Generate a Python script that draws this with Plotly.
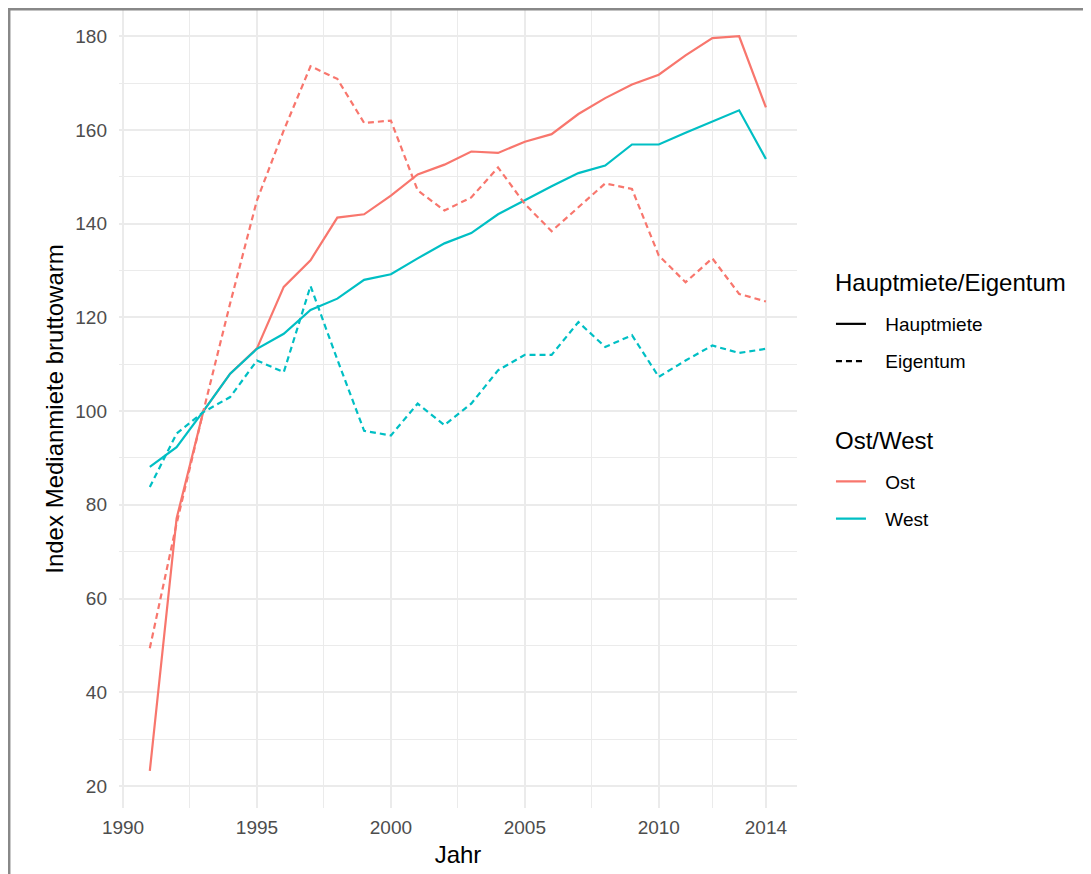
import plotly.graph_objects as go

years = list(range(1991, 2015))

ost_hauptmiete = [23.2, 77.1, 100.0, 108.0, 113.4, 126.5, 132.2, 141.3, 142.0, 146.0, 150.5, 152.6,
                  155.4, 155.1, 157.5, 159.1, 163.4, 166.8, 169.7, 171.8, 175.9, 179.6, 180.0, 164.8]
west_hauptmiete = [88.1, 92.3, 100.0, 108.0, 113.3, 116.5, 121.6, 124.0, 128.0, 129.2, 132.6, 135.8,
                   138.0, 142.0, 145.0, 148.0, 150.8, 152.4, 156.9, 156.9, 159.4, 161.8, 164.2, 153.8]
ost_eigentum = [49.4, 76.0, 100.0, 123.0, 145.0, 159.9, 173.6, 170.9, 161.5, 162.0, 147.1, 142.8,
                145.6, 152.0, 144.2, 138.4, 143.5, 148.6, 147.4, 133.2, 127.5, 132.6, 125.0, 123.4]
west_eigentum = [83.8, 95.2, 99.8, 103.0, 110.8, 108.3, 126.7, 111.0, 95.8, 94.8, 101.6, 97.0,
                 101.6, 108.7, 112.0, 112.0, 119.0, 113.7, 116.2, 107.3, 110.8, 114.0, 112.4, 113.3]

x_ticks = [1990, 1995, 2000, 2005, 2010, 2014]
y_ticks = [20, 40, 60, 80, 100, 120, 140, 160, 180]

RED = "#F8766D"
CYAN = "#00BFC4"
FONT = "Liberation Sans"
LW = 2.2
DASH = "6px,4px"

fig = go.Figure()

series = [
    (ost_hauptmiete, RED, "solid"),
    (west_hauptmiete, CYAN, "solid"),
    (ost_eigentum, RED, DASH),
    (west_eigentum, CYAN, DASH),
]
for vals, col, dash in series:
    fig.add_trace(go.Scatter(x=years, y=vals, mode="lines",
                             line=dict(color=col, width=LW, dash=dash),
                             showlegend=False, hoverinfo="x+y"))

# legend entries
PAD = "\u00a0\u00a0\u2009"
legend_items = [
    ("Hauptmiete", "black", "solid", "legend"),
    ("Eigentum", "black", DASH, "legend"),
    ("Ost", RED, "solid", "legend2"),
    ("West", CYAN, "solid", "legend2"),
]
for name, col, dash, lg in legend_items:
    fig.add_trace(go.Scatter(x=[None], y=[None], mode="lines", name=PAD + name,
                             line=dict(color=col, width=LW, dash=dash),
                             legend=lg, legendgroup=name, showlegend=True))

# figure sits 8px into the page (body margin)
W, H = 1083, 866
L, R, T, B = 111, 789, 2, 800


def px(xp):
    return (xp - L) / (R - L)


def py(yp):
    return (B - yp) / (B - T)


leg_common = dict(
    xanchor="left", yanchor="top",
    font=dict(family=FONT, size=19, color="black"),
    bgcolor="rgba(0,0,0,0)",
    tracegroupgap=9.5,
    itemwidth=30,
)

fig.update_layout(
    width=W, height=H,
    margin=dict(l=L, r=W - R, t=T, b=H - B, pad=0),
    paper_bgcolor="white",
    plot_bgcolor="white",
    font=dict(family=FONT, color="black"),
    xaxis=dict(
        range=[1989.85, 2015.16],
        tickvals=x_ticks,
        ticktext=[str(v) for v in x_ticks],
        showgrid=True, gridcolor="#EBEBEB", gridwidth=2.2,
        zeroline=False, showline=False, ticks="",
        ticklabelstandoff=6,
        tickfont=dict(family=FONT, size=19, color="#4D4D4D"),
        title=dict(text="Jahr", font=dict(family=FONT, size=24, color="black"), standoff=9),
        minor=dict(tickvals=[1992.5, 1997.5, 2002.5, 2007.5, 2012.0], showgrid=True,
                   gridcolor="#EBEBEB", gridwidth=1.1, ticks=""),
    ),
    yaxis=dict(
        range=[15.3, 185.6],
        tickvals=y_ticks,
        showgrid=True, gridcolor="#EBEBEB", gridwidth=2.2,
        zeroline=False, showline=False, ticks="",
        ticklabelstandoff=11,
        tickfont=dict(family=FONT, size=19, color="#4D4D4D"),
        title=dict(text="Index Medianmiete bruttowarm",
                   font=dict(family=FONT, size=24, color="black"), standoff=4),
        minor=dict(dtick=10, tick0=10, showgrid=True, gridcolor="#EBEBEB", gridwidth=1.1, ticks=""),
    ),
    legend=dict(x=px(825) - 0.003, y=py(297), **leg_common),
    legend2=dict(x=px(825) - 0.003, y=py(454.5), **leg_common),
    showlegend=True,
    annotations=[
        dict(text="Hauptmiete/Eigentum", xref="paper", yref="paper", x=px(825), y=py(275),
             xanchor="left", yanchor="middle", showarrow=False,
             font=dict(family=FONT, size=24, color="black")),
        dict(text="Ost/West", xref="paper", yref="paper", x=px(825), y=py(432),
             xanchor="left", yanchor="middle", showarrow=False,
             font=dict(family=FONT, size=24, color="black")),
    ],
    shapes=[
        dict(type="path", xref="paper", yref="paper",
             path="M {x0},{y0} L {x0},{y1} L {x2},{y1}".format(
                 x0=px(1.2), y0=py(900), y1=py(1.2), x2=px(1200)),
             line=dict(color="#888888", width=2.5), layer="above"),
    ],
)

fig.write_html("out.html")
